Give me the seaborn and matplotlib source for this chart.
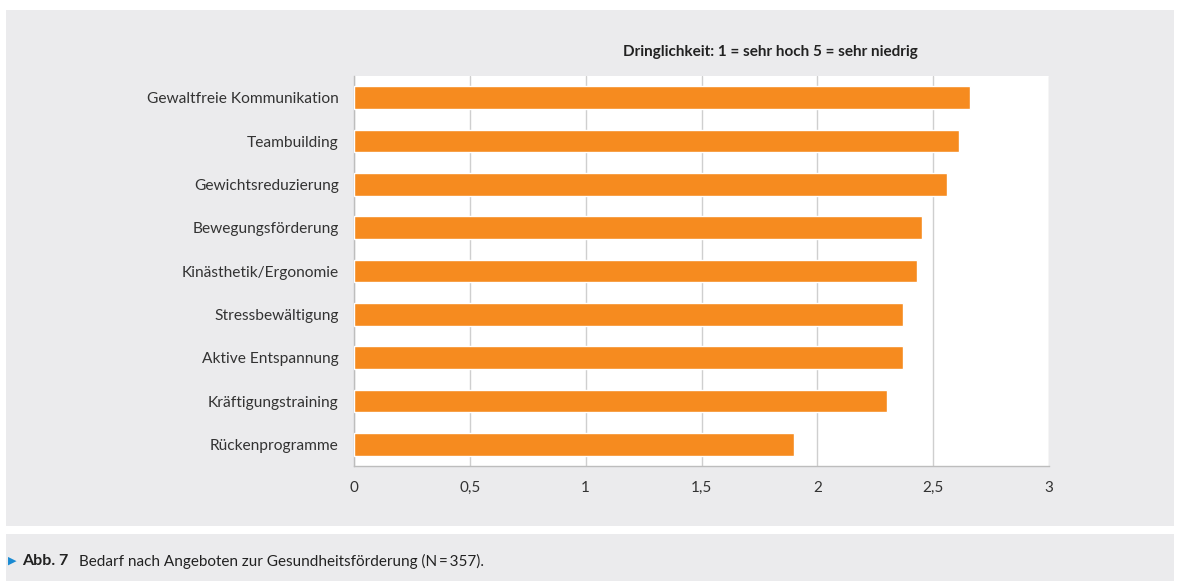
import matplotlib
matplotlib.use("Agg")
import matplotlib.pyplot as plt
from matplotlib.patches import Rectangle
from matplotlib.ticker import FixedLocator
import seaborn as sns
import pandas as pd

categories = [
    "Gewaltfreie Kommunikation",
    "Teambuilding",
    "Gewichtsreduzierung",
    "Bewegungsförderung",
    "Kinästhetik/Ergonomie",
    "Stressbewältigung",
    "Aktive Entspannung",
    "Kräftigungstraining",
    "Rückenprogramme",
]
values = [2.66, 2.61, 2.56, 2.45, 2.43, 2.37, 2.37, 2.30, 1.90]
x_ticks = [0, 0.5, 1, 1.5, 2, 2.5, 3]
x_tick_labels = ["0", "0,5", "1", "1,5", "2", "2,5", "3"]
title = "Dringlichkeit: 1 = sehr hoch 5 = sehr niedrig"

sns.set_theme(style="white")
plt.rcParams["font.family"] = ["Lato", "DejaVu Sans"]

BAR = "#F68B1F"
PANEL = "#EBEBED"
TEXT = "#333333"

df = pd.DataFrame({"Thema": categories, "Wert": values})

fig = plt.figure(figsize=(11.8, 5.81), dpi=100)
fig.patch.set_facecolor("white")

# grey panels behind the chart and the caption
fig.add_artist(Rectangle((6 / 1180, 1 - 526 / 581), 1168 / 1180, 516 / 581,
                         transform=fig.transFigure, facecolor=PANEL,
                         edgecolor="none", zorder=-10))
fig.add_artist(Rectangle((6 / 1180, 0), 1168 / 1180, 47 / 581,
                         transform=fig.transFigure, facecolor=PANEL,
                         edgecolor="none", zorder=-10))

ax = fig.add_axes([354 / 1180, 1 - 466 / 581, 695 / 1180, 390 / 581])
ax.set_facecolor("white")

sns.barplot(data=df, x="Wert", y="Thema", orient="h", color=BAR,
            saturation=1, width=0.53, ax=ax, zorder=3)

ax.set_xlim(0, 3)
ax.set_ylim(len(categories) - 0.5, -0.5)
ax.set_xticks(x_ticks)
ax.set_xticklabels(x_tick_labels)
ax.set_xlabel("")
ax.set_ylabel("")
ax.grid(axis="x", color="#cfcfcf", linewidth=1.0, zorder=0)
ax.set_axisbelow(True)

for side in ["top", "right"]:
    ax.spines[side].set_visible(False)
for side in ["left", "bottom"]:
    ax.spines[side].set_color("#bdbdbd")
    ax.spines[side].set_linewidth(1.0)

ax.tick_params(axis="x", which="major", length=4, color="#bdbdbd",
               labelsize=11, labelcolor=TEXT, pad=7)
ax.tick_params(axis="y", which="major", length=0, labelsize=11.2,
               labelcolor=TEXT, pad=11)
ax.yaxis.set_minor_locator(FixedLocator([i - 0.5 for i in range(len(categories) + 1)]))
ax.tick_params(axis="y", which="minor", length=4, color="#bdbdbd")

fig.text(770 / 1180, 1 - 52 / 581, title, ha="center", va="center",
         fontsize=11, fontweight="bold", color="#222222")

# caption line
fig.text(8 / 1180, 1 - 561 / 581, "\u25B6", ha="left", va="center",
         fontsize=8, color="#1A8AD2", family=["DejaVu Sans"])
fig.text(22 / 1180, 1 - 561 / 581, "Abb. 7", ha="left", va="center",
         fontsize=11.5, fontweight="bold", color="#222222")
fig.text(79 / 1180, 1 - 561 / 581,
         "Bedarf nach Angeboten zur Gesundheitsförderung (N\u2009=\u2009357).",
         ha="left", va="center", fontsize=11, color="#222222",
         family=["Lato", "DejaVu Sans"])

fig.savefig("out.png", dpi=100)
